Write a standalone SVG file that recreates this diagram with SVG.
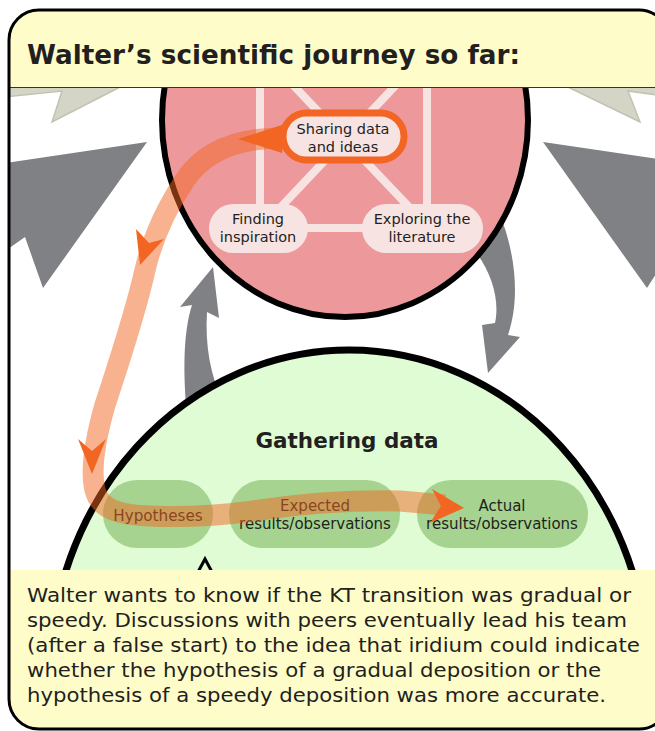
<svg xmlns="http://www.w3.org/2000/svg" width="655" height="731" viewBox="0 0 655 731">
<defs>
<style>
.t{font-family:"DejaVu Sans",Verdana,sans-serif;fill:#231F20}
.b{font-weight:bold}
.pill{fill:#F8E3E3}
.gp{fill:#A6D390}
.link{stroke:#F8E3E3;stroke-width:8;fill:none}
.gray{fill:#808184}
.beige{fill:#D5D5C7;stroke:#C2C2B2;stroke-width:1.5}
.oh{fill:#F26522}
.yel{fill:#FEFDCA}
</style>
<clipPath id="fc"><rect x="9" y="10" width="660" height="719" rx="30"/></clipPath>
</defs>
<rect x="0" y="0" width="655" height="731" fill="#FFFFFF"/>
<g clip-path="url(#fc)">
  <g id="background-shapes">
    <polygon class="beige" points="5,87 5,97 62,91 52,122 120,87"/>
    <polygon class="beige" points="568,87 640,122 628,91 665,96 665,87"/>
    <polygon class="gray" points="5,163 147,142 43,288 25,237 5,251"/>
    <polygon class="gray" points="543,142 665,160 665,260 647,288"/>
  </g>
  <g id="cycle-arrows">
    <path class="gray" d="M186,405 C183,365 184,330 192,305 L180,307 L213,267 L219,318 L207,312 C205,345 210,375 224,405 Z"/>
    <path class="gray" d="M470,245 C492,270 500,300 495,323 L482,325 L488,373 L520,337 L508,335 C520,300 516,255 500,215 Z"/>
  </g>
  <g id="pink-circle">
    <ellipse cx="345" cy="120" rx="183" ry="197" fill="#ED999B" stroke="#000" stroke-width="6"/>
    <line class="link" x1="260" y1="85" x2="260" y2="210"/>
    <line class="link" x1="427" y1="85" x2="427" y2="210"/>
    <line class="link" x1="293" y1="85" x2="410" y2="208"/>
    <line class="link" x1="396" y1="85" x2="280" y2="208"/>
    <line class="link" x1="300" y1="228" x2="370" y2="228"/>
  </g>
  <g id="finding-inspiration">
    <rect class="pill" x="209" y="204" width="99" height="49" rx="24.5"/>
    <text class="t" font-size="14.5" text-anchor="middle"><tspan x="258" y="224">Finding</tspan><tspan x="258" y="241.5">inspiration</tspan></text>
  </g>
  <g id="exploring-literature">
    <rect class="pill" x="362" y="204" width="121" height="49" rx="24.5"/>
    <text class="t" font-size="14.5" text-anchor="middle"><tspan x="422" y="224">Exploring the</tspan><tspan x="422" y="241.5">literature</tspan></text>
  </g>
  <g id="gathering-data">
    <ellipse cx="349" cy="680" rx="300" ry="330" fill="#DFFCD5" stroke="#000" stroke-width="7"/>
    <text class="t b" x="347" y="448" font-size="21.5" text-anchor="middle" fill="#111">Gathering data</text>
    <polyline points="198,572 205,559 212,572" fill="none" stroke="#000" stroke-width="3"/>
  </g>
  <g id="hypotheses">
    <rect class="gp" x="103" y="480" width="110" height="68" rx="34"/>
    <text class="t" x="158" y="521" font-size="15.2" text-anchor="middle">Hypotheses</text>
  </g>
  <g id="expected">
    <rect class="gp" x="229" y="480" width="171" height="68" rx="34"/>
    <text class="t" font-size="15" text-anchor="middle"><tspan x="315" y="511">Expected</tspan><tspan x="315" y="528.5">results/observations</tspan></text>
  </g>
  <g id="actual">
    <rect class="gp" x="417" y="480" width="171" height="68" rx="34"/>
    <text class="t" font-size="15" text-anchor="middle"><tspan x="502" y="511">Actual</tspan><tspan x="502" y="528.5">results/observations</tspan></text>
  </g>
  <g id="connectors">
    <path d="M282,138 C240,138 205,150 185,180 C165,210 152,240 145,270 C135,315 118,365 105,405 C95,440 90,470 95,490 C100,510 120,515 150,516 C190,518 225,515 260,510 C300,504 340,500 400,501 L445,505" fill="none" stroke="#F26522" stroke-opacity="0.5" stroke-width="21" stroke-linejoin="round"/>
    <polygon class="oh" points="285,124 238,139 282,153"/>
    <polygon class="oh" points="140,265 136,229 149,243 164,239"/>
    <polygon class="oh" points="92,474 78,439 92,451 106,439"/>
    <polygon class="oh" points="464,508 432,489 441,506 430,523"/>
  </g>
  <g id="sharing-data">
    <rect class="pill" x="283" y="113" width="121" height="47" rx="23.5" stroke="#F26522" stroke-width="7"/>
    <text class="t" font-size="14.5" text-anchor="middle"><tspan x="343" y="134">Sharing data</tspan><tspan x="343" y="151.5">and ideas</tspan></text>
  </g>
  <g id="title">
    <rect class="yel" x="0" y="0" width="680" height="87"/>
    <line x1="0" y1="87.5" x2="680" y2="87.5" stroke="#333" stroke-width="1"/>
    <text class="t b" x="27" y="64" font-size="26.5" textLength="493" lengthAdjust="spacingAndGlyphs">Walter’s scientific journey so far:</text>
  </g>
  <g id="caption">
    <rect class="yel" x="0" y="570" width="680" height="170"/>
    <text class="t" font-size="20"><tspan x="27" y="602" textLength="604" lengthAdjust="spacingAndGlyphs">Walter wants to know if the KT transition was gradual or</tspan></text>
    <text class="t" font-size="20"><tspan x="27" y="627" textLength="600" lengthAdjust="spacingAndGlyphs">speedy. Discussions with peers eventually lead his team</tspan></text>
    <text class="t" font-size="20"><tspan x="27" y="652" textLength="613" lengthAdjust="spacingAndGlyphs">(after a false start) to the idea that iridium could indicate</tspan></text>
    <text class="t" font-size="20"><tspan x="27" y="677" textLength="574" lengthAdjust="spacingAndGlyphs">whether the hypothesis of a gradual deposition or the</tspan></text>
    <text class="t" font-size="20"><tspan x="27" y="702" textLength="579" lengthAdjust="spacingAndGlyphs">hypothesis of a speedy deposition was more accurate.</tspan></text>
  </g>
</g>
<rect id="frame" x="9" y="10" width="660" height="719" rx="30" fill="none" stroke="#000" stroke-width="3"/>
</svg>
